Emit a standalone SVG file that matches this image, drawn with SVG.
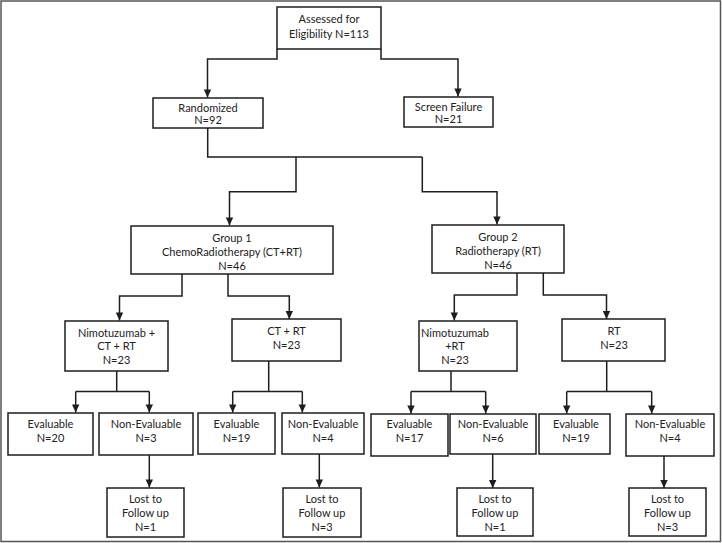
<svg xmlns="http://www.w3.org/2000/svg" width="722" height="543" viewBox="0 0 722 543">
<style>
.box{fill:#fff;stroke:#1e1e1e;stroke-width:1.5}
.ln{fill:none;stroke:#1e1e1e;stroke-width:1.5}
.ar{fill:none;stroke:#1e1e1e;stroke-width:1.5;marker-end:url(#ah)}
text{font-family:Lato,"Open Sans","Liberation Sans",sans-serif;font-size:11px;fill:#222;text-anchor:middle}
</style>
<defs>
<marker id="ah" markerUnits="userSpaceOnUse" markerWidth="10" markerHeight="10" viewBox="0 0 10 10" refX="9" refY="5" orient="auto">
<path d="M1,1.3 L9,5 L1,8.7 Z" fill="#1e1e1e"/>
</marker>
</defs>
<rect x="1" y="1" width="719.5" height="540.5" fill="#fff" stroke="#555" stroke-width="1.5"/>
<g id="connectors">
<path class="ar" d="M277,49 V59 H207.5 V97.5"/>
<path class="ar" d="M381,49 V59 H458 V96.5"/>
<path class="ln" d="M207.7,128 V157 H422.3"/>
<path class="ar" d="M296,157 V191.7 H229.5 V225.5"/>
<path class="ar" d="M422.3,157 V191.7 H497 V224.5"/>
<path class="ar" d="M182,274 V296 H119.5 V320.5"/>
<path class="ar" d="M228,274 V296 H289.3 V319"/>
<path class="ar" d="M517,273 V295 H454.3 V320.5"/>
<path class="ar" d="M543.3,273 V295 H606.5 V319"/>
<path class="ln" d="M116.7,371 V391.5 M75.7,391.5 H149.3"/>
<path class="ar" d="M75.7,391.5 V412.5"/>
<path class="ar" d="M149.3,391.5 V412.5"/>
<path class="ln" d="M268.7,361 V391.5 M232.7,391.5 H302.3"/>
<path class="ar" d="M232.7,391.5 V412.5"/>
<path class="ar" d="M302.3,391.5 V412.5"/>
<path class="ln" d="M451,371 V391.5 M411,391.5 H485.7"/>
<path class="ar" d="M411,391.5 V413.5"/>
<path class="ar" d="M485.7,391.5 V413.5"/>
<path class="ln" d="M606.7,361 V391.5 M566.7,391.5 H651.7"/>
<path class="ar" d="M566.7,391.5 V413.5"/>
<path class="ar" d="M651.7,391.5 V413.5"/>
<path class="ar" d="M149.3,454.5 V487.5"/>
<path class="ar" d="M319.3,453.5 V487.5"/>
<path class="ar" d="M492.7,453.5 V488"/>
<path class="ar" d="M664,455.7 V488"/>
</g>
<g id="assessed"><rect class="box" x="277" y="7" width="104" height="42"/><text x="329" y="23">Assessed for</text><text x="329" y="38">Eligibility N=113</text></g>
<g id="randomized"><rect class="box" x="153" y="98" width="110" height="30"/><text x="208" y="112">Randomized</text><text x="208" y="124">N=92</text></g>
<g id="screen"><rect class="box" x="404" y="97" width="89" height="30"/><text x="448.5" y="111">Screen Failure</text><text x="448.5" y="123">N=21</text></g>
<g id="group1"><rect class="box" x="131" y="226" width="202" height="48"/><text x="232" y="242">Group 1</text><text x="232" y="256">ChemoRadiotherapy (CT+RT)</text><text x="232" y="270">N=46</text></g>
<g id="group2"><rect class="box" x="432" y="225" width="132" height="48"/><text x="498" y="241">Group 2</text><text x="498" y="255">Radiotherapy (RT)</text><text x="498" y="269">N=46</text></g>
<g id="nimo-ctrt"><rect class="box" x="65" y="321" width="103" height="50"/><text x="116.5" y="337">Nimotuzumab +</text><text x="116.5" y="350">CT + RT</text><text x="116.5" y="364">N=23</text></g>
<g id="ctrt"><rect class="box" x="232" y="319" width="109" height="42"/><text x="286.5" y="335">CT + RT</text><text x="286.5" y="349">N=23</text></g>
<g id="nimo-rt"><rect class="box" x="419" y="321" width="98" height="50"/><text x="455" y="337">Nimotuzumab</text><text x="455" y="350">+RT</text><text x="455" y="364">N=23</text></g>
<g id="rt"><rect class="box" x="562" y="319" width="103" height="42"/><text x="614" y="335">RT</text><text x="614" y="349">N=23</text></g>
<g id="eval1"><rect class="box" x="8" y="413" width="85" height="42"/><text x="50.5" y="428">Evaluable</text><text x="50.5" y="442">N=20</text></g>
<g id="noneval1"><rect class="box" x="99" y="413" width="94" height="42"/><text x="146" y="428">Non-Evaluable</text><text x="146" y="442">N=3</text></g>
<g id="eval2"><rect class="box" x="198" y="413" width="77" height="41"/><text x="236.5" y="428">Evaluable</text><text x="236.5" y="442">N=19</text></g>
<g id="noneval2"><rect class="box" x="282" y="413" width="82" height="41"/><text x="323" y="428">Non-Evaluable</text><text x="323" y="442">N=4</text></g>
<g id="eval3"><rect class="box" x="371" y="414" width="77" height="42"/><text x="409.5" y="428">Evaluable</text><text x="409.5" y="442">N=17</text></g>
<g id="noneval3"><rect class="box" x="450" y="414" width="86" height="40"/><text x="493" y="428">Non-Evaluable</text><text x="493" y="442">N=6</text></g>
<g id="eval4"><rect class="box" x="539" y="414" width="71" height="40"/><text x="576" y="428">Evaluable</text><text x="576" y="442">N=19</text></g>
<g id="noneval4"><rect class="box" x="626" y="414" width="88" height="42"/><text x="670" y="428">Non-Evaluable</text><text x="670" y="442">N=4</text></g>
<g id="lost1"><rect class="box" x="107" y="488" width="77" height="49"/><text x="145.5" y="503">Lost to</text><text x="145.5" y="517">Follow up</text><text x="145.5" y="531">N=1</text></g>
<g id="lost2"><rect class="box" x="283" y="488" width="78" height="49"/><text x="322" y="503">Lost to</text><text x="322" y="517">Follow up</text><text x="322" y="531">N=3</text></g>
<g id="lost3"><rect class="box" x="457" y="488" width="76" height="48"/><text x="495" y="503">Lost to</text><text x="495" y="517">Follow up</text><text x="495" y="531">N=1</text></g>
<g id="lost4"><rect class="box" x="629" y="488" width="77" height="48"/><text x="667.5" y="503">Lost to</text><text x="667.5" y="517">Follow up</text><text x="667.5" y="531">N=3</text></g>
</svg>
